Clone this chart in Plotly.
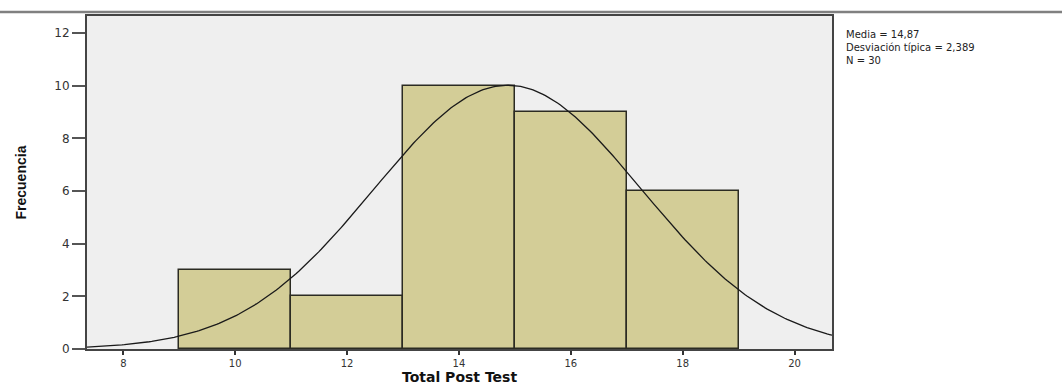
import numpy as np
import plotly.graph_objects as go

# Histogram bins (lower edge, upper edge) and frequencies
bin_left = [9, 11, 13, 15, 17]
bin_right = [11, 13, 15, 17, 19]
freq = [3, 2, 10, 9, 6]

# Summary statistics shown beside the chart
media = 14.87
desv = 2.389
n_total = 30

x_ticks = [8, 10, 12, 14, 16, 18, 20]
y_ticks = [0, 2, 4, 6, 8, 10, 12]

X_RANGE = [7.35, 20.67]
Y_RANGE = [0, 12.65]

centers = [(a + b) / 2 for a, b in zip(bin_left, bin_right)]
widths = [b - a for a, b in zip(bin_left, bin_right)]
bw = widths[0]

fig = go.Figure()
fig.add_trace(go.Bar(
    x=centers, y=freq, width=widths,
    marker=dict(color="#D3CD97", line=dict(color="#2b2b22", width=1.5)),
    hoverinfo="x+y",
))

# Normal curve scaled to counts
xs = np.linspace(X_RANGE[0], X_RANGE[1], 300)
ys = n_total * bw / (desv * np.sqrt(2 * np.pi)) * np.exp(-0.5 * ((xs - media) / desv) ** 2)
fig.add_trace(go.Scatter(x=xs, y=ys, mode="lines",
                         line=dict(color="#1a1a1a", width=1.3), hoverinfo="skip"))

tick_font = dict(family="DejaVu Sans, Arial, sans-serif", size=12, color="#333333")

L, R, T, B = 87, 230, 16, 38
W, H = 1062, 387
pw, ph = W - L - R, H - T - B

fig.update_layout(
    width=W, height=H,
    margin=dict(l=L, r=R, t=T, b=B),
    paper_bgcolor="white", plot_bgcolor="#EFEFEF",
    showlegend=False, bargap=0,
    xaxis=dict(range=X_RANGE, tickvals=x_ticks, ticks="outside", ticklen=4,
               tickcolor="#333333", tickwidth=2, showgrid=False, zeroline=False,
               showline=True, linecolor="#444444", linewidth=2, mirror=True,
               tickfont=dict(tick_font, size=10), automargin=False),
    yaxis=dict(range=Y_RANGE, tickvals=y_ticks, ticks="outside", ticklen=13,
               tickcolor="#555555", tickwidth=1.5, showgrid=False, zeroline=False,
               showline=True, linecolor="#444444", linewidth=2, mirror=True,
               tickfont=tick_font, automargin=False),
)

# Axis titles
fig.add_annotation(text="<b>Total Post Test</b>", xref="paper", yref="paper",
                   x=0.5, y=-(386 - T - ph) / ph, xanchor="center", yanchor="bottom",
                   showarrow=False, borderpad=0,
                   font=dict(family="DejaVu Sans, Arial, sans-serif", size=14, color="#111111"))
fig.add_annotation(text="<b>Frecuencia</b>", xref="paper", yref="paper",
                   x=-(L - 20) / pw, y=0.5, xanchor="center", yanchor="middle",
                   textangle=-90, showarrow=False,
                   font=dict(family="Liberation Sans Narrow, Arial Narrow, Liberation Sans, sans-serif",
                             size=14, color="#111111"))

# Gray rule across the top
fig.add_shape(type="line", xref="paper", yref="paper", x0=-L / pw, x1=(W - L) / pw,
              y0=1 + 4 / ph, y1=1 + 4 / ph, line=dict(color="#808080", width=2.5))

stats = [f"Media = {media:.2f}".replace(".", ","),
         f"Desviación típica = {desv:.3f}".replace(".", ","),
         f"N = {n_total}"]
fig.add_annotation(text="<br>".join(stats), xref="paper", yref="paper", x=(844 - L) / pw,
                   y=1 - (47 - T) / ph, xanchor="left", yanchor="middle", align="left",
                   showarrow=False,
                   font=dict(family="DejaVu Sans, Arial, sans-serif", size=10, color="#222222"))

fig.write_html("out.html")
